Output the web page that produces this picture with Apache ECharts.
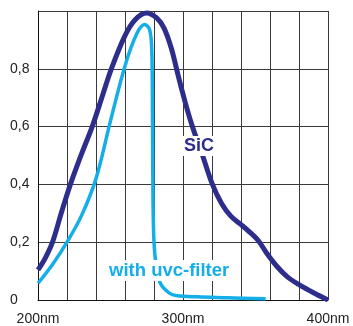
<!DOCTYPE html>
<html>
<head>
<meta charset="utf-8">
<script src="https://cdn.jsdelivr.net/npm/echarts@6/dist/echarts.min.js"></script>
<style>
html,body{margin:0;padding:0;background:#fff;}
#chart{width:353px;height:326px;}
</style>
</head>
<body>
<div id="chart"></div>
<script>
// wavelength (nm), relative sensitivity
const sicData = [
  [200,0.104],[205,0.145],[210,0.2],[216,0.3],[222,0.395],[230,0.505],[237.4,0.6],[244,0.7],
  [250.6,0.8],[260,0.915],[267,0.97],[275,0.993],[282,0.975],[287,0.94],[292,0.87],[297,0.77],
  [302,0.675],[306.5,0.6],[313.5,0.5],[320.3,0.4],[326.7,0.333],[333,0.29],[339,0.265],[346,0.235],
  [352,0.205],[358,0.16],[365,0.115],[372,0.08],[380,0.053],[390,0.025],[400,0.0]
];
const filterData = [
  [200,0.058],[210,0.123],[220,0.2],[230,0.292],[240,0.42],[250,0.62],[260,0.81],
  [268,0.92],[273.5,0.953],[277,0.935],[278.5,0.86],[279,0.6],[279.3,0.35],[280,0.2],
  [281.5,0.12],[284.4,0.058],[290.6,0.024],[296,0.015],[310,0.011],[330,0.008],[357,0.004]
];
const xTickLabels = {200:'200nm',300:'300nm',400:'400nm'};
const yTickLabels = {0:'0',0.2:'0,2',0.4:'0,4',0.6:'0,6',0.8:'0,8'};
const seriesNames = ['SiC','with uvc-filter'];

const chart = echarts.init(document.getElementById('chart'));
const gridColor = '#3a3a3a';
chart.setOption({
  animation:false,
  grid:{left:38,right:25,top:11,bottom:24},
  xAxis:{
    type:'value', min:200, max:400, interval:20,
    axisLine:{show:true,lineStyle:{color:'#111',width:1}},
    axisTick:{show:false},
    splitLine:{show:true,lineStyle:{color:gridColor,width:1}},
    axisLabel:{
      margin:12, color:'#222', fontSize:14, fontFamily:'Liberation Sans, Arial, sans-serif',
      formatter:v=>xTickLabels[v]||''
    }
  },
  yAxis:{
    type:'value', min:0, max:1, interval:0.2,
    axisLine:{show:true,lineStyle:{color:'#111',width:1}},
    axisTick:{show:false},
    splitLine:{show:true,lineStyle:{color:gridColor,width:1}},
    axisLabel:{
      margin:28, align:'left', color:'#222', fontSize:14, fontFamily:'Liberation Sans, Arial, sans-serif',
      formatter:v=>{const k=Math.round(v*10)/10; return yTickLabels[k]!==undefined?yTickLabels[k]:'';}
    }
  },
  series:[
    {name:seriesNames[0],type:'line',data:sicData,showSymbol:false,smooth:0.35,
     lineStyle:{color:'#2d2d8c',width:5},z:3},
    {name:seriesNames[1],type:'line',data:filterData,showSymbol:false,smooth:0.35,
     lineStyle:{color:'#14aee8',width:3.5},z:2}
  ],
  graphic:[
    {type:'text',left:182,top:136,z:10,
     style:{text:seriesNames[0],fill:'#2d2d8c',font:'bold 18px Liberation Sans, Arial, sans-serif',
            backgroundColor:'#fff',padding:[1,2,1,2]}},
    {type:'text',left:107,top:260,z:10,
     style:{text:seriesNames[1],fill:'#14aee8',font:'bold 18.5px Liberation Sans, Arial, sans-serif',
            backgroundColor:'#fff',padding:[1,2,1,2]}}
  ]
});
</script>
</body>
</html>
